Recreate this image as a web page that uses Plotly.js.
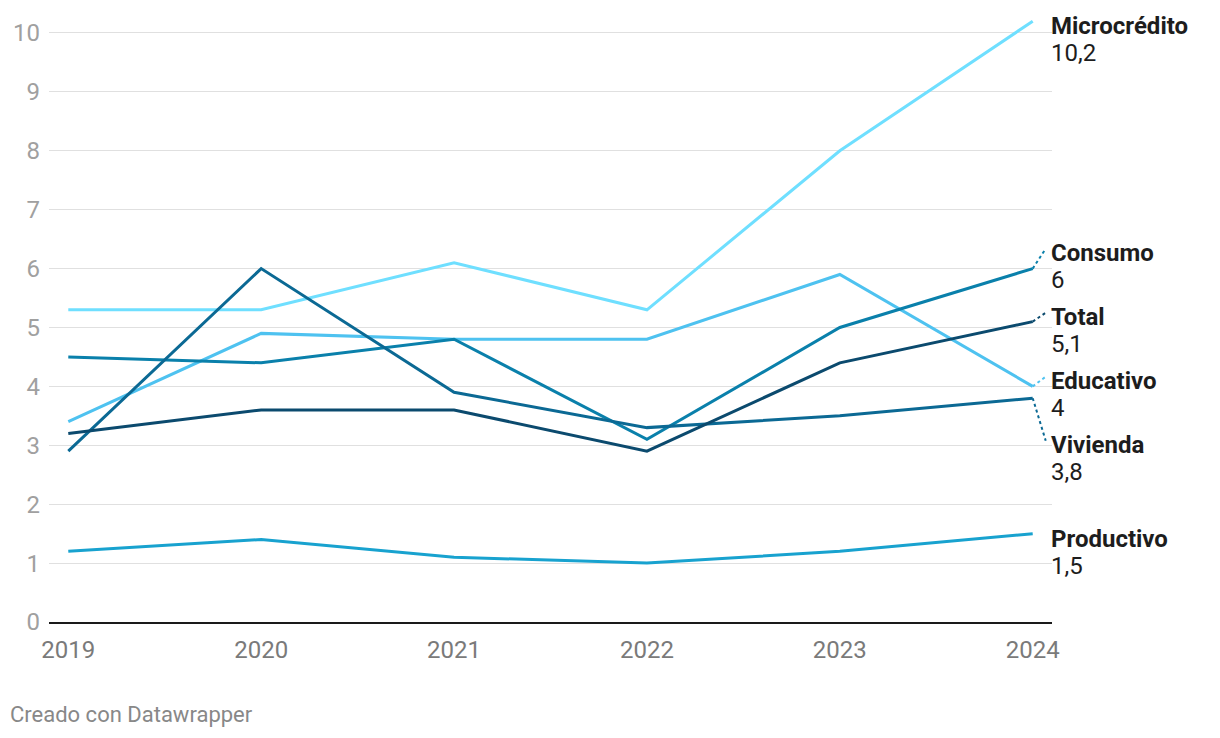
<!DOCTYPE html>
<html>
<head>
<meta charset="utf-8">
<script src="https://cdn.plot.ly/plotly-3.0.1.min.js"></script>
<style>
  html, body { margin: 0; padding: 0; background: #fff; }
  #chart { width: 1220px; height: 738px; }
</style>
</head>
<body>
<div id="chart"></div>
<script>
const years = [2019, 2020, 2021, 2022, 2023, 2024];
const seriesNames = ["Microcrédito", "Educativo", "Consumo", "Vivienda", "Total", "Productivo"];
const microcredito = [5.3, 5.3, 6.1, 5.3, 8.0, 10.2];
const educativo    = [3.4, 4.9, 4.8, 4.8, 5.9, 4.0];
const consumo      = [4.5, 4.4, 4.8, 3.1, 5.0, 6.0];
const vivienda     = [2.9, 6.0, 3.9, 3.3, 3.5, 3.8];
const total        = [3.2, 3.6, 3.6, 2.9, 4.4, 5.1];
const productivo   = [1.2, 1.4, 1.1, 1.0, 1.2, 1.5];
const colors = ["#6fdfff", "#4ec2f0", "#0a80ab", "#0b6994", "#0b4a6e", "#18a2cf"];
const yTicks = [0,1,2,3,4,5,6,7,8,9,10];

const allValues = [microcredito, educativo, consumo, vivienda, total, productivo];

const W = 1220, H = 738;
const margin = {l: 49, r: 168, t: 10, b: 116};
const yMax = 10.39;
const pxPerUnit = (H - margin.t - margin.b) / yMax;

const traces = allValues.map((vals, i) => ({
  type: 'scatter', mode: 'lines', x: years, y: vals, name: seriesNames[i],
  line: {color: colors[i], width: 3}, hoverinfo: 'skip', cliponaxis: false
}));

// label placement (avoid overlap), in data units
const offset = 5 / pxPerUnit;
const spacing = 64 / pxPerUnit;
let items = allValues.map((v, i) => ({i, last: v[v.length-1], want: v[v.length-1] - offset}));
items.sort((a, b) => b.want - a.want);
let groups = items.map(it => ({members: [it], pos: it.want}));
function groupTop(g){ return g.pos + (g.members.length-1)*spacing/2; }
function groupBottom(g){ return g.pos - (g.members.length-1)*spacing/2; }
let changed = true;
while (changed) {
  changed = false;
  for (let k = 0; k < groups.length - 1; k++) {
    if (groupBottom(groups[k]) - groupTop(groups[k+1]) < spacing - 1e-9) {
      const m = groups[k].members.concat(groups[k+1].members);
      const mean = m.reduce((s, it) => s + it.want, 0) / m.length;
      groups.splice(k, 2, {members: m, pos: mean});
      changed = true;
      break;
    }
  }
}
const labelPos = {};
groups.forEach(g => {
  const top = groupTop(g);
  g.members.forEach((it, j) => { labelPos[it.i] = top - j*spacing; });
});

const fmt = v => String(v).replace('.', ',');
const annotations = [];
const shapes = [];
allValues.forEach((vals, i) => {
  const last = vals[vals.length-1];
  const lp = labelPos[i];
  annotations.push({
    xref: 'x', yref: 'y', x: years[years.length-1], y: lp, xanchor: 'left', yanchor: 'middle',
    xshift: 16, showarrow: false, text: seriesNames[i],
    font: {family: 'Roboto, sans-serif', size: 24, color: '#1d1d1d', weight: 700}
  });
  annotations.push({
    xref: 'x', yref: 'y', x: years[years.length-1], y: lp, xanchor: 'left', yanchor: 'middle',
    xshift: 16, yshift: -27, showarrow: false, text: fmt(last),
    font: {family: 'Roboto, sans-serif', size: 24, color: '#1d1d1d'}
  });
  if (Math.abs(lp - (last - offset)) > 0.1) {
    shapes.push({
      type: 'line', xref: 'x', yref: 'y', xsizemode: 'pixel', xanchor: years[years.length-1],
      x0: 0, x1: 13, y0: last, y1: lp + 4/pxPerUnit,
      line: {color: colors[i], width: 2, dash: 'dot'}
    });
  }
});

annotations.push({
  xref: 'paper', yref: 'paper', x: -49/1003, y: -(714-622)/(H-margin.t-margin.b),
  xanchor: 'left', yanchor: 'middle', xshift: 8, showarrow: false,
  text: 'Creado con Datawrapper',
  font: {family: 'Roboto, sans-serif', size: 22, color: '#888888'}
});

const layout = {
  width: W, height: H,
  margin: margin,
  paper_bgcolor: '#ffffff', plot_bgcolor: '#ffffff',
  showlegend: false,
  font: {family: 'Roboto, sans-serif'},
  xaxis: {
    range: [2018.9, 2024.1], tickvals: years, ticktext: years.map(String),
    showgrid: false, zeroline: false, showline: true, linecolor: '#1a1a1a', linewidth: 2,
    ticks: '', ticklabelstandoff: 5,
    tickfont: {family: 'Roboto, sans-serif', size: 24, color: '#7a7a7a'},
    fixedrange: true
  },
  yaxis: {
    range: [0, yMax], tickvals: yTicks, ticktext: yTicks.map(String),
    showgrid: true, gridcolor: '#e0e0e0', gridwidth: 1, zeroline: false, showline: false,
    ticks: '', ticklabelstandoff: 8,
    tickfont: {family: 'Roboto, sans-serif', size: 24, color: '#a0a0a0'},
    fixedrange: true
  },
  annotations: annotations,
  shapes: shapes
};

Plotly.newPlot('chart', traces, layout, {displayModeBar: false, staticPlot: true});
</script>
</body>
</html>
